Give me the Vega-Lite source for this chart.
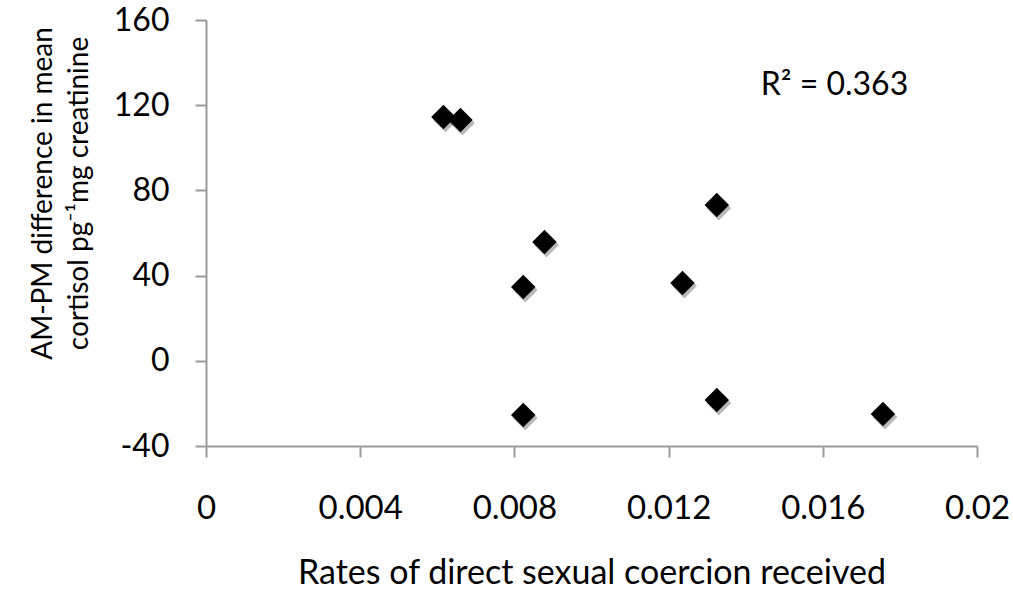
{
  "$schema": "https://vega.github.io/schema/vega-lite/v6.json",
  "autosize": "none",
  "width": 771,
  "height": 426,
  "padding": {"left": 206, "top": 20, "right": 36, "bottom": 144},
  "background": "white",
  "config": {
    "view": {"stroke": null},
    "font": "Lato"
  },
  "datasets": {
    "points": [
      {"rate": 0.00616, "diff": 114.5},
      {"rate": 0.0066, "diff": 113.0},
      {"rate": 0.00878, "diff": 55.8},
      {"rate": 0.00823, "diff": 34.6},
      {"rate": 0.01325, "diff": 73.1},
      {"rate": 0.01236, "diff": 36.5},
      {"rate": 0.00823, "diff": -25.4},
      {"rate": 0.01325, "diff": -18.4},
      {"rate": 0.01756, "diff": -25.0}
    ],
    "note": [
      {"rate": 0.01439, "diff": 124.8, "label": "R² = 0.363"}
    ]
  },
  "encoding": {
    "x": {
      "field": "rate",
      "type": "quantitative",
      "scale": {"domain": [0, 0.02], "nice": false, "zero": false},
      "axis": {
        "values": [0, 0.004, 0.008, 0.012, 0.016, 0.02],
        "format": "~g",
        "grid": false,
        "domainColor": "#9a9a9a",
        "domainWidth": 2,
        "tickColor": "#9a9a9a",
        "tickWidth": 2,
        "tickSize": 11,
        "labelFontSize": 33,
        "labelColor": "#000000",
        "labelBaseline": "alphabetic",
        "labelPadding": 61,
        "labelFlush": false,
        "labelOverlap": false,
        "title": "Rates of direct sexual coercion received",
        "titleFontSize": 34,
        "titleFontWeight": "normal",
        "titleColor": "#000000",
        "titleBaseline": "alphabetic",
        "titleAnchor": "middle",
        "titleY": 137
      }
    },
    "y": {
      "field": "diff",
      "type": "quantitative",
      "scale": {"domain": [-40, 160], "nice": false, "zero": false},
      "axis": {
        "values": [-40, 0, 40, 80, 120, 160],
        "labelExpr": "toString(datum.value)",
        "grid": false,
        "domainColor": "#9a9a9a",
        "domainWidth": 2,
        "tickColor": "#9a9a9a",
        "tickWidth": 2,
        "tickSize": 11,
        "labelFontSize": 32,
        "labelColor": "#000000",
        "labelPadding": 26,
        "labelFlush": false,
        "labelOverlap": false,
        "title": ["AM-PM difference in mean", "cortisol pg⁻¹mg creatinine"],
        "titleFontSize": 28,
        "titleFontWeight": "normal",
        "titleColor": "#000000",
        "titleAngle": -90,
        "titleAlign": "center",
        "titleBaseline": "middle",
        "titleLineHeight": 36,
        "titleX": -163,
        "titleY": 173
      }
    }
  },
  "layer": [
    {
      "data": {"name": "points"},
      "mark": {"type": "point", "shape": "diamond", "filled": true, "size": 620, "color": "#000000", "opacity": 0.28, "xOffset": 2, "yOffset": 3},
      "encoding": {}
    },
    {
      "data": {"name": "points"},
      "mark": {"type": "point", "shape": "diamond", "filled": true, "size": 600, "color": "#000000", "opacity": 1},
      "encoding": {}
    },
    {
      "data": {"name": "note"},
      "mark": {"type": "text", "align": "left", "baseline": "alphabetic", "fontSize": 32, "color": "#000000"},
      "encoding": {"text": {"field": "label"}}
    }
  ]
}
